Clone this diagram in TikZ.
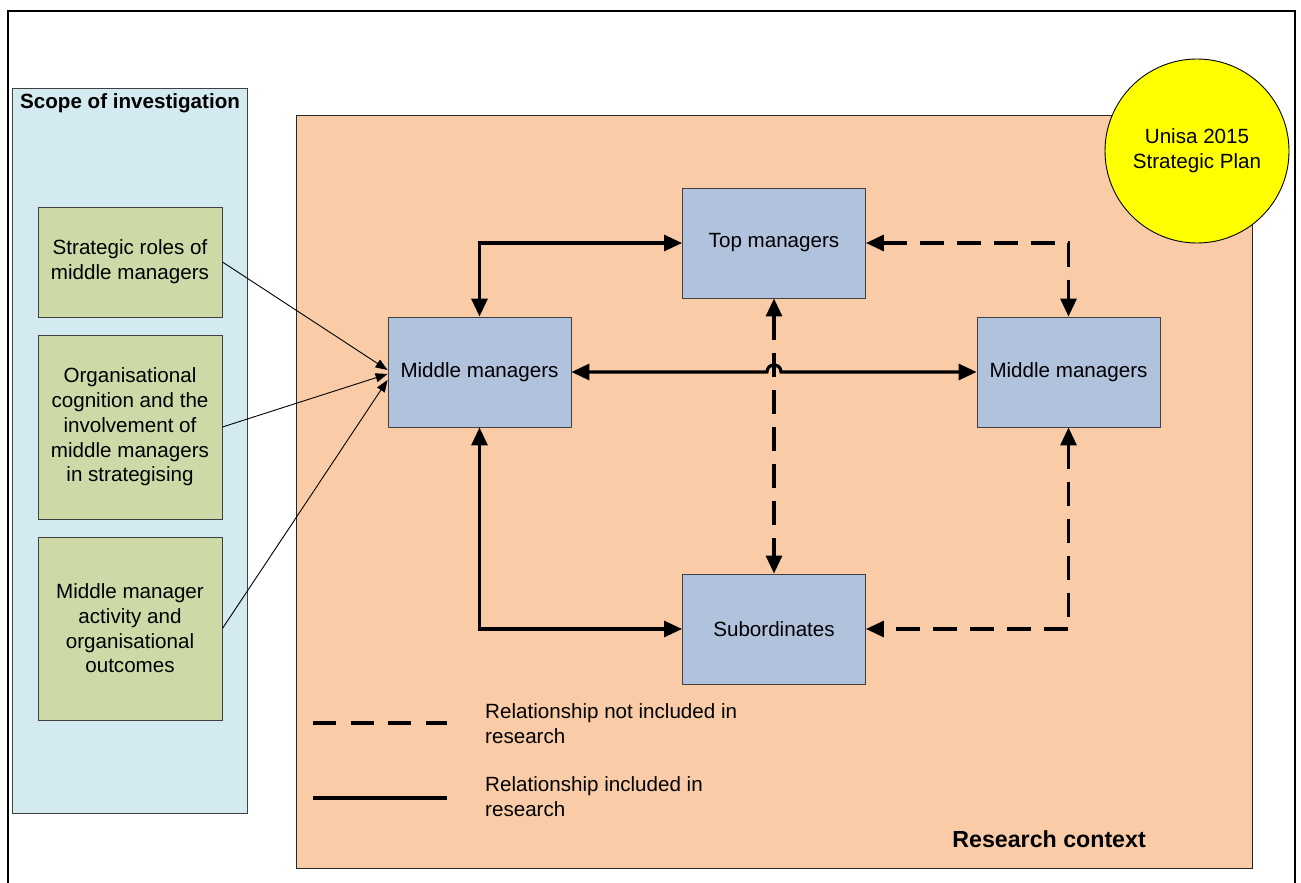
\documentclass[tikz,border=0pt]{standalone}
\usepackage{fontspec}
\setmainfont{Liberation Sans}
\usetikzlibrary{arrows.meta,calc}
\definecolor{scopefill}{RGB}{211,234,240}
\definecolor{ctxfill}{RGB}{249,204,167}
\definecolor{greenfill}{RGB}{205,218,168}
\definecolor{bluefill}{RGB}{176,194,220}
\definecolor{edgegray}{RGB}{64,64,64}
\definecolor{planyellow}{RGB}{255,255,0}
\tikzset{
  txt/.style={font=\fontsize{20.6}{24.7}\selectfont, text=black},
  boldtxt/.style={font=\fontsize{20.6}{24.7}\selectfont\bfseries, text=black, inner sep=0pt},
  scopebox/.style={draw=edgegray, line width=0.9pt, fill=scopefill, inner sep=0pt},
  ctxbox/.style={draw=black!85, line width=0.9pt, fill=ctxfill, inner sep=0pt},
  greenbox/.style={txt, draw=edgegray, line width=0.9pt, fill=greenfill, align=center, minimum width=184pt, inner sep=0pt},
  actor/.style={txt, draw=edgegray, line width=0.9pt, fill=bluefill, align=center, minimum width=183pt, minimum height=110pt, inner sep=0pt},
  plan/.style={txt, circle, draw=black, line width=0.9pt, fill=planyellow, align=center, minimum size=184pt, inner sep=0pt},
  rel/.style={line width=3.2pt, {Triangle[length=18pt,width=16pt]}-{Triangle[length=18pt,width=16pt]}},
  norel/.style={rel, dash pattern=on 24pt off 13pt},
  feed/.style={line width=0.9pt, -{Triangle[length=12pt,width=9pt]}},
  legsolid/.style={line width=3.2pt},
  legdash/.style={line width=3.2pt, dash pattern=on 23pt off 14.5pt},
  legtxt/.style={txt, anchor=base west, align=left, inner sep=0pt},
  frameline/.style={line width=2.4pt}
}
\begin{document}
\begin{tikzpicture}[x=1pt,y=-1pt]
\useasboundingbox (0,0) rectangle (1301,883);
% outer frame
\coordinate (fa) at (8,884);
\coordinate (fb) at (8,11);
\coordinate (fc) at (1295,11);
\coordinate (fd) at (1295,884);
\draw[frameline] (fa) -- (fb) -- (fc) -- (fd);
% containers
\node[scopebox, minimum width=235pt, minimum height=725pt] (scope) at (129.5,450.5) {};
\node[boldtxt, anchor=base west] (scopetitle) at (20,108) {Scope of investigation};
\node[ctxbox, minimum width=956pt, minimum height=753pt] (ctx) at (774,491.5) {};
\node[boldtxt, font=\fontsize{23.2}{27}\selectfont\bfseries, anchor=base east] (ctxtitle) at (1146,847) {Research context};
\node[plan] (plan) at (1197,151) {Unisa 2015\\Strategic Plan};
% scope items
\node[greenbox, minimum height=110pt] (g1) at (130,262) {Strategic roles of\\middle managers};
\node[greenbox, minimum height=184pt] (g2) at (130,427) {Organisational\\cognition and the\\involvement of\\middle managers\\in strategising};
\node[greenbox, minimum height=183pt] (g3) at (130,628.5) {Middle manager\\activity and\\organisational\\outcomes};
% actors
\node[actor] (top) at (774,243) {Top managers};
\node[actor] (midL) at (479.5,372) {Middle managers};
\node[actor] (midR) at (1068.5,372) {Middle managers};
\node[actor] (sub) at (774,629) {Subordinates};
% feeds
\draw[feed] (g1.east) -- ([yshift=2pt]midL.west);
\draw[feed] (g2.east) -- ([yshift=-2pt]midL.west);
\draw[feed] (g3.east) -- ([yshift=-8pt]midL.west);
% included relationships
\draw[rel] (top.west) -| (midL.north);
\draw[rel] (midL.south) |- (sub.west);
\coordinate (hopL) at ($(top.south |- midL.east)+(-7,0)$);
\coordinate (hopR) at ($(top.south |- midL.east)+(7,0)$);
\draw[rel] (midL.east) -- (hopL) .. controls ($(hopL)+(0,-9.3)$) and ($(hopR)+(0,-9.3)$) .. (hopR) -- (midR.west);
% not included relationships
\draw[norel] (top.south) -- (sub.north);
\draw[norel] (top.east) -| (midR.north);
\draw[norel] (midR.south) |- (sub.east);
% legend
\coordinate (l1a) at (313,723);
\coordinate (l1b) at (447,723);
\coordinate (l2a) at (313,798);
\coordinate (l2b) at (447,798);
\draw[legdash] (l1a) -- (l1b);
\draw[legsolid] (l2a) -- (l2b);
\node[legtxt] (leg1) at (485,743) {Relationship not included in\\research};
\node[legtxt] (leg2) at (485,816) {Relationship included in\\research};
\end{tikzpicture}
\end{document}
